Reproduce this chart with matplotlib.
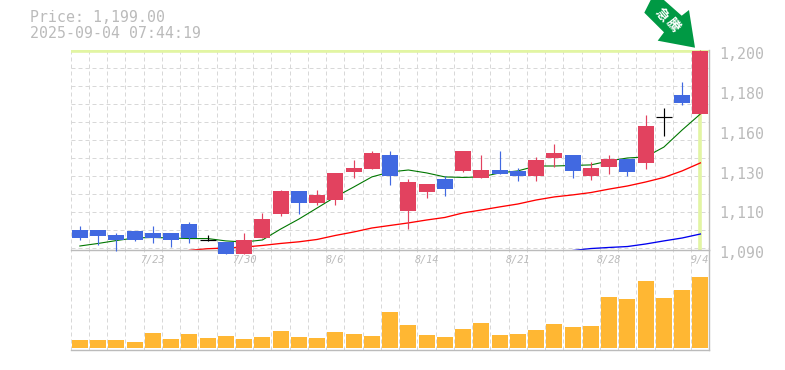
import matplotlib
matplotlib.use("Agg")
import matplotlib.pyplot as plt
from matplotlib.patches import Polygon, Rectangle

W, H = 785, 370
GRAY = "#bbbbbb"
GRID = "#d8d8d8"
UP = "#e2425f"
DOWN = "#4169e1"

opens = [1101, 1101, 1098.25, 1100.45, 1099.35, 1099.35, 1104.3, 1095.5, 1094.4, 1087.8,
         1096.6, 1109.8, 1122.45, 1115.85, 1117.5, 1132.9, 1134.55, 1142.25, 1111.45, 1121.9,
         1129.05, 1133.45, 1129.6, 1134, 1133.45, 1130.7, 1140.6, 1142.25, 1130.7, 1135.65,
         1140.05, 1137.85, 1163.15, 1175.25, 1164.8]
highs = [1103.2, 1101, 1099.35, 1100.45, 1103.2, 1099.35, 1105.4, 1098.25, 1094.4, 1099.35,
         1110.35, 1123, 1122.45, 1123, 1132.35, 1139.5, 1144.45, 1144.45, 1129.05, 1126.3,
         1130.7, 1144.45, 1142.25, 1144.45, 1135.1, 1141.15, 1148.3, 1142.25, 1138.4, 1142.25,
         1140.05, 1164.25, 1168.1, 1182.4, 1200]
lows = [1095.5, 1092.75, 1089.45, 1095, 1093.85, 1091.65, 1093.85, 1095, 1087.8, 1087.8,
        1096.6, 1108.7, 1109.8, 1114.75, 1114.75, 1129.6, 1134.55, 1125.75, 1101.55, 1118.6,
        1119.7, 1132.9, 1129.6, 1131.8, 1127.95, 1127.95, 1135.65, 1129.6, 1128.5, 1131.8,
        1130.7, 1134.55, 1152.7, 1169.75, 1164.8]
closes = [1096.6, 1097.7, 1095.5, 1095.5, 1096.6, 1095.5, 1096.6, 1095.5, 1087.8, 1095.5,
          1107.05, 1122.45, 1115.85, 1120.25, 1132.35, 1135.1, 1143.35, 1130.7, 1127.4, 1126.3,
          1123.55, 1144.45, 1134, 1131.8, 1130.7, 1139.5, 1143.35, 1133.45, 1135.1, 1140.05,
          1132.9, 1158.2, 1163.15, 1170.85, 1199.45]
volume = [8, 8, 8, 6, 15, 9, 14, 10, 12, 9, 11, 17, 11, 10, 16, 14, 12, 36, 23, 13,
          11, 19, 25, 13, 14, 18, 24, 21, 22, 51, 49, 67, 50, 58, 71]

ma_short = [1092.2, 1093.6, 1095.2, 1096.6, 1096.9, 1096.6, 1096.3, 1096.3, 1095, 1094.4,
            1095.5, 1101.5, 1107, 1113.1, 1119.2, 1124.6, 1130.2, 1132.9, 1134, 1132.4,
            1130.2, 1129.9, 1130.2, 1132.4, 1133.5, 1136.2, 1136.2, 1136.5, 1136.8, 1139,
            1140.6, 1141.2, 1146.6, 1156, 1164.8]
ma_mid = [1089.8, 1090.7, 1091.1, 1091.6, 1092.5, 1093.6, 1094.5, 1095.8, 1098, 1099.9,
          1102.1, 1103.5, 1104.9, 1106.5, 1107.9, 1110.4, 1112, 1113.7, 1115.3, 1117.5,
          1119.2, 1120.3, 1121.6, 1123.5, 1125.2, 1127.4, 1129.9, 1133.5, 1137.9]
ma_long = [1089.7, 1090.8, 1091.4, 1091.9, 1093.3, 1095, 1096.6, 1098.8]
ma_mid_start = 6
ma_long_start = 27

date_idx = [4, 9, 14, 19, 24, 29, 34]
date_labels = ["7/23", "7/30", "8/6", "8/14", "8/21", "8/28", "9/4"]
price_labels = ["1,200", "1,180", "1,160", "1,130", "1,110", "1,090"]
price_ticks = [1200, 1178, 1156, 1134, 1112, 1090]


def px_rect(left, top, right, bottom):
    return [left / W, 1 - bottom / H, (right - left) / W, (bottom - top) / H]


plt.rcParams["font.family"] = "DejaVu Sans Mono"
fig = plt.figure(figsize=(W / 100, H / 100), dpi=100, facecolor="white")
ax2 = fig.add_axes(px_rect(70.7, 250, 709.5, 350))
ax = fig.add_axes(px_rect(70.7, 50, 709.5, 250))
ax.patch.set_alpha(0)

n = len(closes)
for a in (ax, ax2):
    a.set_xlim(-0.5, n - 0.5)
    a.set_xticks([i - 0.5 for i in range(n)])
    a.grid(axis="x", color=GRID, lw=0.72, ls=(0, (4, 3)))
    a.tick_params(length=0, labelbottom=False, labelleft=False)
    a.set_axisbelow(True)
    a.spines["left"].set_visible(False)
    a.spines["top"].set_visible(False)
    for s in ("right", "bottom"):
        a.spines[s].set_color(GRAY)
        a.spines[s].set_linewidth(1)

# price panel
ax.set_ylim(1090, 1200)
ax.set_yticks([1200 - 9.9 * i for i in range(12)])
ax.grid(axis="y", color=GRID, lw=0.72, ls=(0, (4, 3)))
ax.axhline(1199.5, color="#e2f5a3", lw=2.6, zorder=1.5)
ax.axvline(n - 1, color="#e2f5a3", lw=2.6, zorder=1.5)

xs = list(range(n))
ax.plot(xs, ma_short, color="#007700", lw=0.8, zorder=2)
ax.plot(xs[ma_mid_start:], ma_mid, color="#ff0000", lw=0.95, zorder=2)
ax.plot(xs[ma_long_start:], ma_long, color="#0000ee", lw=0.95, zorder=2)

for i in xs:
    o, h, l, c = opens[i], highs[i], lows[i], closes[i]
    col = "black" if o == c else (UP if c > o else DOWN)
    ax.plot([i, i], [l, h], color=col, lw=0.85, zorder=3, clip_on=False, solid_capstyle="butt")
    if o == c:
        ax.plot([i - 0.44, i + 0.44], [o, o], color=col, lw=0.85, zorder=3, solid_capstyle="butt")
    else:
        ax.add_patch(Rectangle((i - 0.44, min(o, c)), 0.88, abs(c - o), fc=col, ec="none",
                               zorder=4, clip_on=False))

for t, lab in zip(price_ticks, price_labels):
    ax.annotate(lab, (1, t), xycoords=("axes fraction", "data"), xytext=(10, -4),
                textcoords="offset pixels", color=GRAY, fontsize=10.7, va="center", ha="left",
                annotation_clip=False)

for i, lab in zip(date_idx, date_labels):
    ax.annotate(lab, (i, 1090), xycoords="data", xytext=(0, -10), textcoords="offset pixels",
                color=GRAY, fontsize=7.4, style="italic", ha="center", va="center",
                annotation_clip=False)

# volume panel
ax2.set_ylim(-2, 98)
ax2.set_yticks([])
ax2.bar(xs, volume, width=0.88, color="#ffb733", zorder=3)

# header
fig.text(30 / W, 1 - 18 / H, "Price: 1,199.00", color=GRAY, fontsize=10.7, va="center")
fig.text(30 / W, 1 - 33 / H, "2025-09-04 07:44:19", color=GRAY, fontsize=10.7, va="center")

# arrow badge
arrow_px = [(695, 47.7), (689, 10), (681.7, 15.7), (661.7, -2), (651.7, -2), (644.3, 12.7),
            (664, 32.3), (657.7, 40.7)]
fig.add_artist(Polygon([(x / W, 1 - y / H) for x, y in arrow_px], closed=True, fc="#009944",
                       ec="none", transform=fig.transFigure, zorder=10))
for (x, y), ch in zip([(661.5, 14.5), (673, 25)], "急騰"):
    fig.text(x / W, 1 - y / H, ch, color="white", fontsize=9.5, rotation=-50, ha="center",
             va="center", fontweight="bold", family=["Noto Sans CJK JP", "DejaVu Sans"], zorder=11)

fig.savefig("out.png", dpi=100)
